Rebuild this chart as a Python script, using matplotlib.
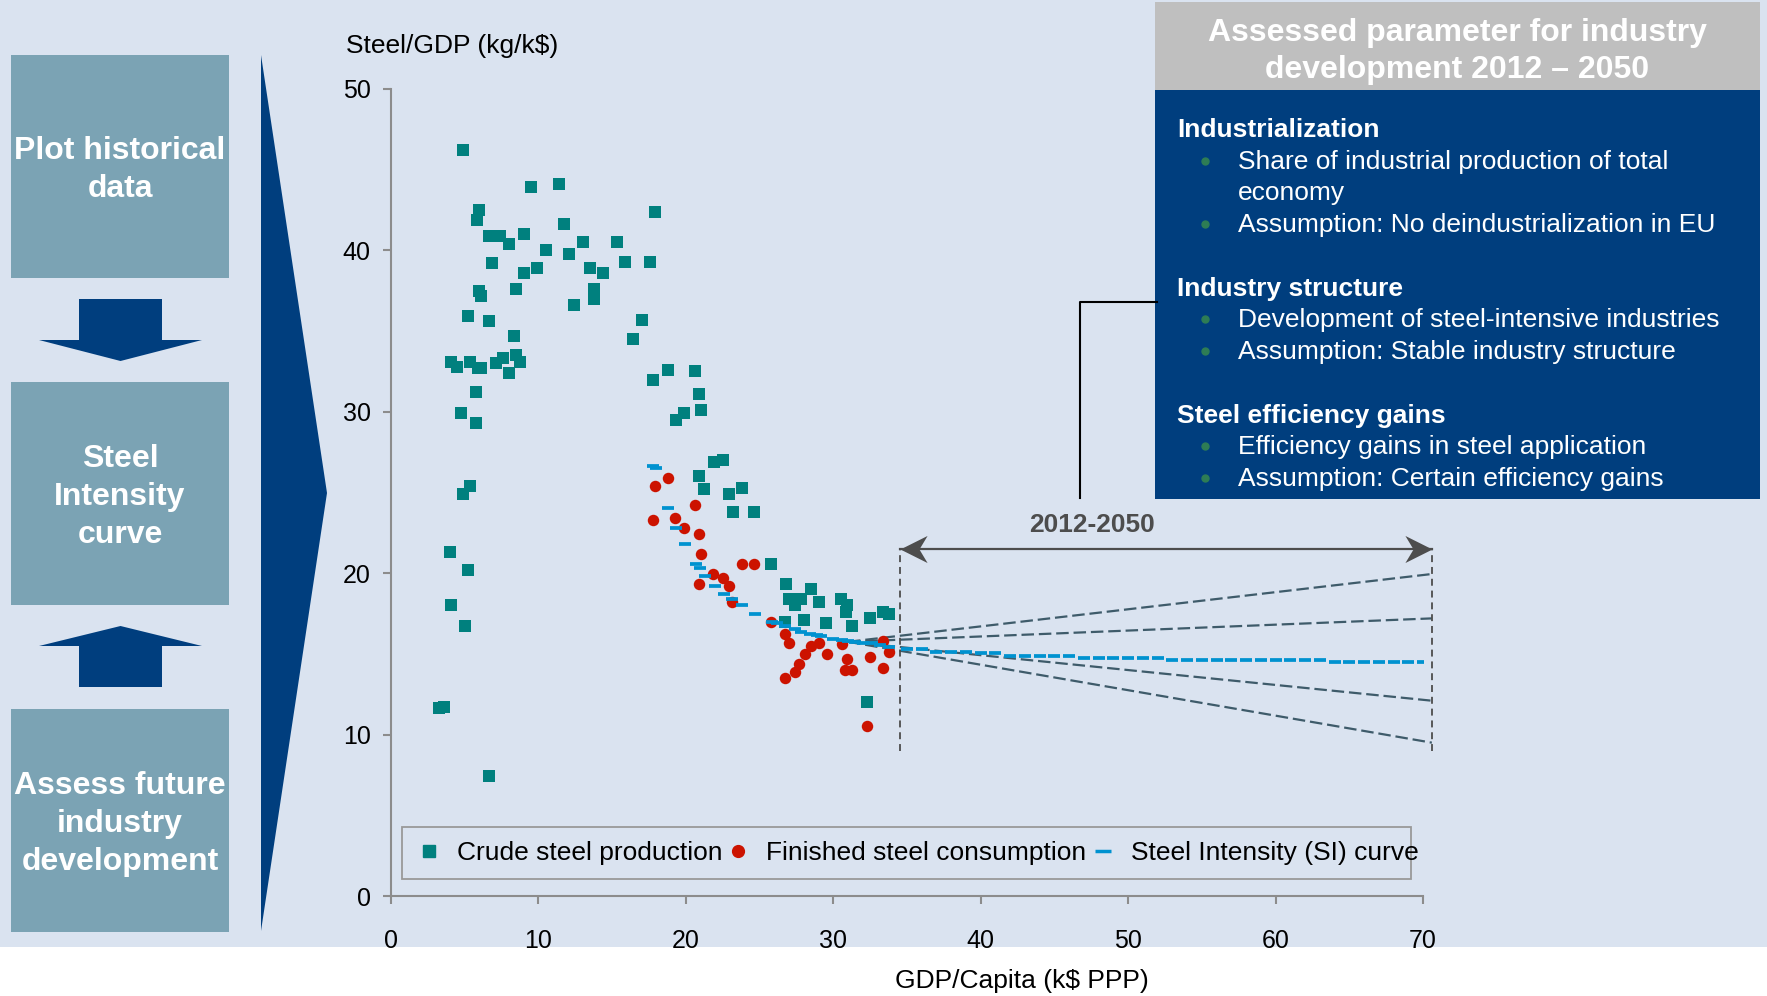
import matplotlib.pyplot as plt
from matplotlib.patches import Rectangle, Polygon
from matplotlib.lines import Line2D
from matplotlib.path import Path

plt.rcParams['font.family'] = ['Liberation Sans', 'DejaVu Sans']
plt.rcParams['lines.scale_dashes'] = False

# crude steel production (GDP/capita k$ PPP, steel/GDP kg/k$)
crude_x = [4.86, 9.5, 11.4, 6.0, 5.86, 17.9, 11.76, 6.63, 7.4, 8.0,
           9.0, 10.5, 12.1, 13.0, 15.3, 6.87, 9.0, 9.88, 13.5, 14.4,
           15.9, 17.6, 6.0, 6.13, 8.5, 13.8, 13.8, 12.4, 5.25, 6.63,
           8.37, 17.0, 16.4, 4.1, 4.5, 5.36, 5.88, 6.1, 7.1, 7.6,
           8.5, 8.75, 8.0, 17.75, 18.8, 20.65, 5.75, 20.9, 21.0, 4.75,
           5.75, 19.3, 19.9, 21.9, 22.5, 20.9, 21.25, 22.9, 23.8, 5.36,
           4.86, 3.99, 5.25, 4.1, 4.99, 3.23, 3.6, 6.63, 23.2, 24.6,
           25.8, 26.8, 27.0, 27.8, 27.4, 28.5, 29.0, 30.5, 30.95, 30.85,
           26.7, 28.0, 29.5, 31.3, 32.5, 33.4, 33.8, 32.3]
crude_y = [46.2, 43.9, 44.1, 42.5, 41.9, 42.4, 41.65, 40.9, 40.9, 40.4,
           41.0, 40.0, 39.8, 40.5, 40.5, 39.2, 38.6, 38.9, 38.9, 38.6,
           39.3, 39.3, 37.5, 37.2, 37.6, 37.6, 37.0, 36.6, 35.95, 35.6,
           34.7, 35.7, 34.5, 33.1, 32.8, 33.1, 32.7, 32.7, 33.0, 33.35,
           33.5, 33.1, 32.4, 32.0, 32.6, 32.5, 31.2, 31.1, 30.1, 29.9,
           29.3, 29.5, 29.9, 26.9, 27.0, 26.0, 25.2, 24.9, 25.3, 25.4,
           24.9, 21.3, 20.2, 18.0, 16.75, 11.67, 11.7, 7.45, 23.8, 23.8,
           20.6, 19.35, 18.4, 18.4, 18.0, 19.0, 18.2, 18.4, 18.0, 17.6,
           17.0, 17.1, 16.9, 16.75, 17.25, 17.6, 17.5, 12.0]

# finished steel consumption
cons_x = [17.9, 18.77, 20.65, 17.77, 19.27, 19.9, 20.9, 21.0, 23.8, 24.65,
          20.9, 21.86, 22.5, 22.9, 23.15, 25.8, 26.7, 27.0, 28.05, 28.5,
          29.0, 27.7, 27.4, 26.7, 29.55, 30.6, 30.9, 30.8, 31.3, 32.5,
          33.4, 33.75, 33.4, 32.3]
cons_y = [25.4, 25.9, 24.2, 23.3, 23.45, 22.8, 22.45, 21.2, 20.6, 20.6,
          19.35, 19.97, 19.7, 19.2, 18.2, 17.0, 16.25, 15.7, 15.0, 15.5,
          15.7, 14.4, 13.9, 13.5, 15.0, 15.6, 14.7, 14.0, 14.0, 14.8,
          15.8, 15.1, 14.15, 10.55]

# steel intensity curve, historical part and extension to 2050
si_x = [17.8, 17.95, 18.8, 19.34, 19.95, 20.7, 20.95, 21.3, 22.0, 22.6,
        23.1, 23.8, 24.7, 25.85, 26.2, 26.7, 27.4, 27.8, 28.4, 28.9,
        29.2, 30.0, 30.6, 31.0, 31.5, 32.0, 32.6, 33.2, 33.8,
        35, 36, 37, 38, 39, 40, 41, 42, 43, 44, 45, 46, 47, 48, 49, 50,
        51, 52, 53, 54, 55, 56, 57, 58, 59, 60, 61, 62, 63, 64, 65, 66,
        67, 68, 69, 70]
si_y = [26.65, 26.5, 24.05, 22.8, 21.8, 20.6, 20.3, 19.85, 19.2, 18.7,
        18.4, 18.0, 17.5, 17.0, 16.9, 16.74, 16.54, 16.37, 16.25, 16.15,
        16.08, 15.95, 15.86, 15.8, 15.74, 15.7, 15.67, 15.55, 15.44,
        15.3, 15.3, 15.13, 15.13, 15.13, 15.05, 15.05, 14.9, 14.9, 14.9,
        14.9, 14.9, 14.77, 14.77, 14.77, 14.77, 14.77, 14.77, 14.62, 14.62,
        14.62, 14.62, 14.62, 14.62, 14.62, 14.62, 14.62, 14.62, 14.62, 14.5,
        14.5, 14.5, 14.5, 14.5, 14.5, 14.5]

# scenario fan 2012-2050
period_x = [34.5, 70.6]
period_y = [9.0, 21.5]
fan_x = [31.0, 70.6]
fan_start = 15.75
fan_end = [19.95, 17.2, 12.1, 9.5]

x_ticks = [0, 10, 20, 30, 40, 50, 60, 70]
y_ticks = [0, 10, 20, 30, 40, 50]

steps = [["Plot historical", "data"],
         ["Steel", "Intensity", "curve"],
         ["Assess future", "industry", "development"]]

panel_title = ["Assessed parameter for industry", "development 2012 \u2013 2050"]
sections = [("Industrialization",
             [["Share of industrial production of total", "economy"],
              ["Assumption: No deindustrialization in EU"]]),
            ("Industry structure",
             [["Development of steel-intensive industries"],
              ["Assumption: Stable industry structure"]]),
            ("Steel efficiency gains",
             [["Efficiency gains in steel application"],
              ["Assumption: Certain efficiency gains"]])]

W, H = 1767, 996
LIGHT = '#DAE3F0'
NAVY = '#003E7E'
BOX = '#7BA3B4'
TEAL = '#00807E'
RED = '#CC1300'
BLUE = '#0092D0'
SLATE = '#3E5B6A'
DARK = '#4D4D4D'

fig = plt.figure(figsize=(W / 100, H / 100), dpi=100, facecolor='white')


def pixel_axes(z):
    a = fig.add_axes([0, 0, 1, 1], zorder=z)
    a.set_xlim(0, W)
    a.set_ylim(H, 0)
    a.axis('off')
    a.patch.set_alpha(0)
    return a


bg = pixel_axes(0)
bg.add_patch(Rectangle((0, 0), W, 947, facecolor=LIGHT, lw=0))

# left flow: three boxes with arrows
for top, lines in zip([55, 382, 709], steps):
    bg.add_patch(Rectangle((11, top), 218, 223, facecolor=BOX, lw=0))
    mid = top + 111.5
    first = mid - (len(lines) - 1) * 19 + 11
    for i, s in enumerate(lines):
        bg.text(120, first + i * 38, s, ha='center', va='baseline',
                fontsize=23, fontweight='bold', color='white')

bg.add_patch(Polygon([(79, 299), (162, 299), (162, 340), (202, 340),
                      (120.5, 361), (39, 340), (79, 340)], facecolor=NAVY, lw=0))
bg.add_patch(Polygon([(79, 687), (162, 687), (162, 646), (202, 646),
                      (120.5, 626), (39, 646), (79, 646)], facecolor=NAVY, lw=0))
bg.add_patch(Polygon([(261, 55), (327, 493), (261, 931)], facecolor=NAVY, lw=0))

bg.text(346, 53, "Steel/GDP (kg/k$)", fontsize=19, va='baseline')
bg.text(1022, 988, "GDP/Capita (k$ PPP)", fontsize=19, ha='center', va='baseline')

# main chart
ax = fig.add_axes([391 / W, 1 - 896 / H, 1032 / W, 807 / H], zorder=2)
ax.patch.set_alpha(0)
ax.set_xlim(0, 70)
ax.set_ylim(0, 50)
ax.set_xticks(x_ticks)
ax.set_yticks(y_ticks)
for side in ['top', 'right']:
    ax.spines[side].set_visible(False)
for side in ['left', 'bottom']:
    ax.spines[side].set_color('#8C8C8C')
    ax.spines[side].set_linewidth(1.5)
ax.tick_params(direction='out', length=5.5, width=1.5, color='#8C8C8C',
               labelsize=18, labelcolor='black')
ax.tick_params(axis='x', pad=18)
ax.tick_params(axis='y', pad=9)

for end in fan_end:
    ax.plot(fan_x, [fan_start, end], color=SLATE, lw=1.6,
            dashes=(9, 3.5), clip_on=False, zorder=2)
for xv in period_x:
    ax.plot([xv, xv], period_y, color=DARK, lw=1.3, dashes=(5, 3.5),
            clip_on=False, zorder=2)

ax.scatter(crude_x, crude_y, marker='s', s=68, color=TEAL, lw=0, zorder=3)
ax.scatter(cons_x, cons_y, marker='o', s=68, color=RED, lw=0, zorder=4)
ax.plot(si_x, si_y, ls='none', marker='_', ms=9.3, mew=2.7, color=BLUE,
        zorder=5)

# double arrow over the projection period, stealth-shaped heads
head_r = Path([(0, 0), (-1, 0.5), (-0.7, 0), (-1, -0.5), (0, 0)],
              [Path.MOVETO, Path.LINETO, Path.LINETO, Path.LINETO, Path.CLOSEPOLY])
head_l = Path([(0, 0), (1, 0.5), (0.7, 0), (1, -0.5), (0, 0)],
              [Path.MOVETO, Path.LINETO, Path.LINETO, Path.LINETO, Path.CLOSEPOLY])
ax.plot(period_x, [period_y[1], period_y[1]], color=DARK, lw=1.6,
        clip_on=False, zorder=5)
ax.plot(period_x[1], period_y[1], marker=head_r, ms=39, mew=0, color=DARK,
        clip_on=False, zorder=6)
ax.plot(period_x[0], period_y[1], marker=head_l, ms=39, mew=0, color=DARK,
        clip_on=False, zorder=6)
ax.text(sum(period_x) / 2 - 5, period_y[1] + 1.5, "2012-2050", ha='center',
        va='center', fontsize=19, fontweight='bold', color=DARK)

handles = [Line2D([], [], ls='none', marker='s', ms=9, color=TEAL),
           Line2D([], [], ls='none', marker='o', ms=8.5, color=RED),
           Line2D([], [], ls='none', marker='_', ms=12, mew=2.5, color=BLUE)]
labels = ["Crude steel production", "Finished steel consumption",
          "Steel Intensity (SI) curve"]
ax.legend(handles, labels, ncol=3, loc='center left',
          bbox_to_anchor=(418 / W, 1 - 853 / H), bbox_transform=fig.transFigure,
          frameon=False, fontsize=19, handlelength=0.8, handletextpad=0.66,
          columnspacing=0.22, borderpad=0, borderaxespad=0)
bg.add_patch(Rectangle((402, 827), 1009, 52, facecolor='none',
                       edgecolor='#999999', lw=1.3))

# right panel with assessed parameters
top = pixel_axes(3)
top.plot([1157, 1080, 1080], [302, 302, 498], color='black', lw=1.5)
top.add_patch(Rectangle((1155, 2), 605, 88, facecolor='#BFBFBF', lw=0))
top.add_patch(Rectangle((1155, 90), 605, 409, facecolor=NAVY, lw=0))
for i, s in enumerate(panel_title):
    top.text(1457, 41 + i * 37, s, ha='center', va='baseline', fontsize=23,
             fontweight='bold', color='white')

y = 137
for head, bullets in sections:
    top.text(1177, y, head, va='baseline', fontsize=19, fontweight='bold',
             color='white')
    for item in bullets:
        y += 31.5
        top.plot(1205, y - 8, 'o', ms=5, color='#2E7D55')
        for k, line in enumerate(item):
            if k:
                y += 31.5
            top.text(1238, y, line, va='baseline', fontsize=19, color='white')
    y += 64

fig.savefig('out.png', dpi=100, facecolor=fig.get_facecolor())
